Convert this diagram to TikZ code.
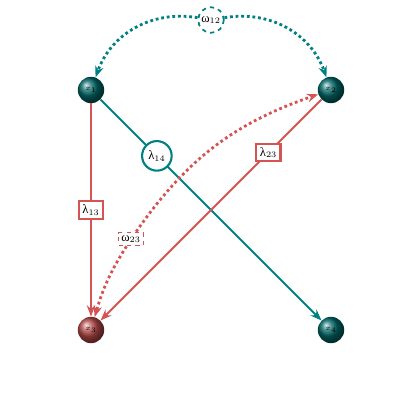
\documentclass[tikz,border=0pt]{standalone}
\usepackage{amsmath, amssymb}
\usepackage{fontspec}
\usepackage{tikz}
\usepackage{xcolor}
\usetikzlibrary{shapes,arrows.meta,positioning,calc}

\newfontfamily\grkfont{Liberation Serif}
\newcommand{\lam}[1]{{\grkfont λ}$_{#1}$}
\newcommand{\omg}[1]{{\grkfont ω}$_{#1}$}

\definecolor{tealc}{RGB}{0,128,128}
\definecolor{redc}{RGB}{212,84,84}

\begin{document}
\begin{tikzpicture}[x=1cm, y=1cm,
        ball/.style={circle, minimum size=0.66cm, inner sep=0pt, font=\tiny},
        tball/.style={ball, ball color=tealc!80!black},
        rball/.style={ball, ball color=redc!85!black},
        lab/.style={draw, fill=white, text=black, inner sep=2.5pt, font=\small},
        edge/.style={line width=1.5pt, -{Stealth[length=2.8mm, width=2.1mm]}},
        lat/.style={line width=2pt, dotted, -{Stealth[length=2.8mm, width=2.1mm]}}]
    \useasboundingbox (0,0) rectangle (10.5,10.5);
    % variables
    \node[tball] (x1) at (2.275, 8.25) {$x_1$};
    \node[tball] (x2) at (8.275, 8.25) {$x_2$};
    \node[rball] (x3) at (2.275, 2.25) {$x_3$};
    \node[tball] (x4) at (8.275, 2.25) {$x_4$};
    % loadings
    \draw[edge, tealc] (x1) -- (x4)
        node[lab, circle, solid, line width=1.5pt, pos=0.255, minimum size=0.74cm, inner sep=0pt] (l14) {\lam{14}};
    \draw[edge, redc] (x1) -- (x3)
        node[lab, line width=1.5pt, pos=0.5] (l13) {\lam{13}};
    \draw[edge, redc] (x2) -- (x3)
        node[lab, line width=1.5pt, pos=0.24] (l23) {\lam{23}};
    % covariances
    \node[lab, circle, dashed, draw=tealc, line width=1.2pt, minimum size=0.64cm, inner sep=0pt] (w12) at (5.275, 10.0) {\omg{12}};
    \draw[lat, tealc] (w12) to[bend right=40] (x1);
    \draw[lat, tealc] (w12) to[bend left=40] (x2);
    \node[lab, dashed, draw=redc, line width=1.2pt, inner sep=2pt] (w23) at (3.275, 4.525) {\omg{23}};
    \draw[lat, redc] (w23) to[bend left=18] (x2);
    \draw[lat, redc] (w23) to[bend right=8] (x3);
\end{tikzpicture}
\end{document}
